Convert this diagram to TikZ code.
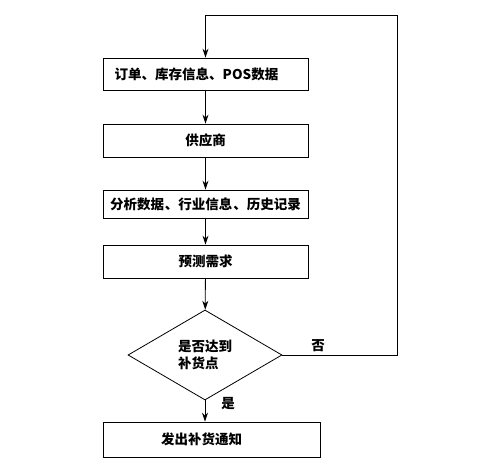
\documentclass[tikz,border=0pt]{standalone}
\usepackage{fontspec}
\newfontfamily\cjk{Noto Sans CJK SC}
\usetikzlibrary{shapes.geometric,arrows.meta}
\begin{document}
\begin{tikzpicture}[x=1pt,y=1pt,
  box/.style={draw,line width=0.8pt,minimum height=32pt,inner sep=0pt,font=\cjk\bfseries\fontsize{13.5}{15}\selectfont},
  dec/.style={draw,diamond,line width=0.8pt,minimum width=154pt,minimum height=90pt,inner sep=0pt,font=\cjk\bfseries\fontsize{13.5}{17}\selectfont,align=left},
  arr/.style={line width=0.8pt,-{Stealth[length=9pt,width=6pt]}},
  lbl/.style={font=\cjk\bfseries\fontsize{13.5}{15}\selectfont}]
\useasboundingbox (0,0) rectangle (490,466);
\node[box,minimum width=205pt,minimum height=32pt] (b1) at (205.5,392) {订单、库存信息、POS数据\kern18pt};
\node[box,minimum width=205pt,minimum height=33pt] (b2) at (205.5,325.5) {供应商};
\node[box,minimum width=205pt,minimum height=28pt] (b3) at (205.5,262) {分析数据\kern1pt、行业信息\kern1pt、历史记录};
\node[box,minimum width=205pt,minimum height=33pt] (b4) at (205.5,204.5) {预测需求};
\node[dec] (d) at (205,111) {是否达到\\补货点};
\node[box,minimum width=217pt,minimum height=35pt] (b5) at (211.5,26.5) {发出补货通知\kern20pt};
\coordinate (c1) at (397,111);
\coordinate (c2) at (397,451);
\coordinate (c3) at (205.5,451);
\draw[arr] (b1) -- (b2);
\draw[arr] (b2) -- (b3);
\draw[arr] (b3) -- (b4);
\draw[arr] (b4) -- (d);
\draw[arr] (d.south) -- (d.south |- b5.north);
\draw[arr] (d.east) -- (c1) -- (c2) -- (c3) -- (b1.north);
\node[lbl] (no) at (318,120) {否};
\node[lbl] (yes) at (228,62) {是};
\end{tikzpicture}
\end{document}
